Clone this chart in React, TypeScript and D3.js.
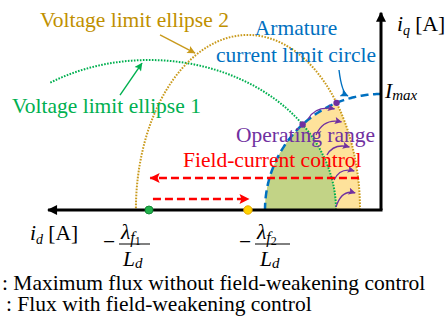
import React from "react";
import * as d3 from "d3";

const W = 445;
const H = 321;
const FONT = "'Liberation Serif','Times New Roman',serif";

// ---- data (normalised units, Imax = 1) ----
const currentLimit = 1; // Imax radius
const ellipseNames = ["Voltage limit ellipse 1", "Voltage limit ellipse 2"];
const ellipseCenters = [2.0, 1.147]; // λf/Ld
const ellipseRd = [1.612, 0.966];
const ellipseRq = [1.293, 1.509];
const ellipseStartDeg = [122, 180];
// operating-range arrows [id, iq]
const opArrowStart: [number, number][] = [
  [-0.629, 0.784],
  [-0.56, 0.647],
  [-0.466, 0.474],
  [-0.405, 0.259],
  [-0.388, 0.026],
];
const opArrowEnd: [number, number][] = [
  [-0.4, 0.871],
  [-0.34, 0.759],
  [-0.272, 0.543],
  [-0.23, 0.336],
  [-0.222, 0.147],
];
// field-current control arrows [from id, to id, iq]
const fieldArrows: [number, number, number][] = [
  [-0.19, -1.99, 0.276],
  [-1.966, -1.138, 0.095],
];
// callouts [from, to]
const goldCallout: [number, number][] = [[-1.905, 1.509], [-1.603, 1.353]];
const greenCallout: [number, number][] = [[-2.25, 0.991], [-2.06, 1.267]];
const blueCallout: [number, number][] = [[-0.362, 1.207], [-0.284, 0.983]];

const C_GOLD_T = "#bf9000";
const C_GOLD = "#c99a1c";
const C_GREEN = "#00b050";
const C_BLUE = "#0070c0";
const C_RED = "#ff0000";
const C_PURPLE = "#7030a0";

const x = d3.scaleLinear().domain([-3, 0]).range([381 - 348, 381]);
const y = d3.scaleLinear().domain([0, 1.7]).range([210, 210 - 197.2]);
const line = d3
  .line<[number, number]>()
  .x((p) => x(p[0]))
  .y((p) => y(p[1]));

function ellipsePts(i: number, a0: number, a1: number, n = 160): [number, number][] {
  return d3.range(n + 1).map((k) => {
    const t = a0 + ((a1 - a0) * k) / n;
    return [-ellipseCenters[i] + ellipseRd[i] * Math.cos(t), ellipseRq[i] * Math.sin(t)];
  });
}

function circlePts(a0: number, a1: number, n = 120): [number, number][] {
  return d3.range(n + 1).map((k) => {
    const t = a0 + ((a1 - a0) * k) / n;
    return [currentLimit * Math.cos(t), currentLimit * Math.sin(t)];
  });
}

function intersect(i: number): [number, number] {
  const f = (t: number) => {
    const d = currentLimit * Math.cos(t);
    const q = currentLimit * Math.sin(t);
    return ((d + ellipseCenters[i]) / ellipseRd[i]) ** 2 + (q / ellipseRq[i]) ** 2 - 1;
  };
  let lo = Math.PI / 2;
  let hi = Math.PI;
  for (let k = 0; k < 60; k++) {
    const m = (lo + hi) / 2;
    if (f(m) > 0) lo = m;
    else hi = m;
  }
  const t = (lo + hi) / 2;
  return [currentLimit * Math.cos(t), currentLimit * Math.sin(t)];
}

function curved(s: [number, number], e: [number, number], bend = 3) {
  const sx = x(s[0]);
  const sy = y(s[1]);
  const ex = x(e[0]);
  const ey = y(e[1]);
  const cx = sx + (ex - sx) * 0.3;
  const cy = ey - bend;
  return `M${sx},${sy} Q${cx},${cy} ${ex},${ey}`;
}

function Marker({ id, color, w, h }: { id: string; color: string; w: number; h: number }) {
  return (
    <marker
      id={id}
      viewBox="0 0 10 10"
      refX={9.5}
      refY={5}
      markerWidth={w}
      markerHeight={h}
      markerUnits="userSpaceOnUse"
      orient="auto"
    >
      <path d="M0,0 L10,5 L0,10 L2,5 z" fill={color} />
    </marker>
  );
}

export default function App() {
  const r = x(0) - x(-currentLimit);
  const halfClosed = (i: number) => line(ellipsePts(i, 0, Math.PI)) + "Z";
  const p1 = intersect(0);
  const p2 = intersect(1);
  const textBase = { fontFamily: FONT, fontSize: 21.5 } as const;

  return (
    <svg
      width={W}
      height={H}
      style={{ position: "absolute", left: 0, top: 0, background: "#fff" }}
    >
      <defs>
        <clipPath id="circ">
          <circle cx={x(0)} cy={y(0)} r={r} />
        </clipPath>
        <Marker id="m-red" color={C_RED} w={13} h={10} />
        <Marker id="m-purple" color={C_PURPLE} w={8} h={7} />
        <Marker id="m-gold" color={C_GOLD} w={10} h={8} />
        <Marker id="m-green" color={C_GREEN} w={10} h={8} />
        <Marker id="m-blue" color={C_BLUE} w={10} h={8} />
        <marker
          id="m-black"
          viewBox="0 0 10 10"
          refX={9}
          refY={5}
          markerWidth={12}
          markerHeight={10}
          markerUnits="userSpaceOnUse"
          orient="auto"
        >
          <path d="M0,0 L10,5 L0,10 z" fill="#000" />
        </marker>
      </defs>

      {/* fills */}
      <path d={halfClosed(1)} fill="#fee29b" clipPath="url(#circ)" />
      <path d={halfClosed(0)} fill="#c2d386" clipPath="url(#circ)" />

      {/* voltage limit ellipses */}
      <path
        d={line(ellipsePts(0, 0, (ellipseStartDeg[0] * Math.PI) / 180)) || ""}
        fill="none"
        stroke={C_GREEN}
        strokeWidth={2}
        strokeDasharray="1.6 1.4"
      />
      <path
        d={line(ellipsePts(1, 0, (ellipseStartDeg[1] * Math.PI) / 180)) || ""}
        fill="none"
        stroke={C_GOLD}
        strokeWidth={2}
        strokeDasharray="1.6 1.4"
      />

      {/* current limit circle */}
      <path
        d={line(circlePts(Math.PI / 2, Math.PI)) || ""}
        fill="none"
        stroke={C_BLUE}
        strokeWidth={2.5}
        strokeDasharray="8 4.5"
      />

      {/* operating range arrows */}
      {opArrowStart.map((s, i) => (
        <path
          key={i}
          d={curved(s, opArrowEnd[i], 4)}
          fill="none"
          stroke={C_PURPLE}
          strokeWidth={1.3}
          markerEnd="url(#m-purple)"
        />
      ))}

      {/* field current control arrows */}
      {fieldArrows.map((a, i) => (
        <line
          key={i}
          x1={x(a[0])}
          x2={x(a[1])}
          y1={y(a[2])}
          y2={y(a[2])}
          stroke={C_RED}
          strokeWidth={2.5}
          strokeDasharray="8 4"
          markerEnd="url(#m-red)"
        />
      ))}

      {/* callouts */}
      <path d={line(goldCallout) || ""} stroke={C_GOLD} strokeWidth={1.4} markerEnd="url(#m-gold)" />
      <path d={line(greenCallout) || ""} stroke={C_GREEN} strokeWidth={1.4} markerEnd="url(#m-green)" />
      <path
        d={curved(blueCallout[0], blueCallout[1])}
        fill="none"
        stroke={C_BLUE}
        strokeWidth={1.4}
        markerEnd="url(#m-blue)"
      />

      {/* axes */}
      <line x1={x(0)} y1={y(0)} x2={x(0)} y2={y(1.7)} stroke="#000" strokeWidth={3} markerEnd="url(#m-black)" />
      <line x1={x(0) + 1.5} y1={y(0)} x2={x(-2.87)} y2={y(0)} stroke="#000" strokeWidth={3} markerEnd="url(#m-black)" />

      {/* points */}
      <circle cx={x(p1[0])} cy={y(p1[1])} r={3.2} fill={C_PURPLE} />
      <circle cx={x(p2[0])} cy={y(p2[1])} r={3.2} fill={C_PURPLE} />
      <circle cx={x(-ellipseCenters[0])} cy={y(0)} r={4} fill="#22b14c" stroke="#128a36" strokeWidth={1} />
      <circle cx={x(-ellipseCenters[1])} cy={y(0)} r={4.2} fill="#ffd200" stroke="#e8a800" strokeWidth={1} />

      {/* texts */}
      <text x={40} y={27} fill={C_GOLD_T} {...textBase}>{ellipseNames[1]}</text>
      <text x={12} y={113} fill={C_GREEN} {...textBase}>{ellipseNames[0]}</text>
      <text x={296} y={35} fill={C_BLUE} textAnchor="middle" {...textBase}>Armature</text>
      <text x={296} y={62} fill={C_BLUE} textAnchor="middle" {...textBase}>current limit circle</text>
      <text x={236} y={142} fill={C_PURPLE} {...textBase}>Operating range</text>
      <text x={183} y={167} fill={C_RED} {...textBase}>Field-current control</text>

      <text x={397} y={31} {...textBase}>
        <tspan fontStyle="italic">i</tspan>
        <tspan fontStyle="italic" fontSize={14} dy={4}>q</tspan>
        <tspan dy={-4}> [A]</tspan>
      </text>
      <text x={385} y={98} {...textBase}>
        <tspan fontStyle="italic">I</tspan>
        <tspan fontStyle="italic" fontSize={15} dy={2}>max</tspan>
      </text>
      <text x={30} y={240} {...textBase}>
        <tspan fontStyle="italic">i</tspan>
        <tspan fontStyle="italic" fontSize={14} dy={4}>d</tspan>
        <tspan dy={-4}> [A]</tspan>
      </text>

      {/* -λf1/Ld */}
      <text x={103} y={249} {...textBase}>−</text>
      <text x={121} y={239} {...textBase}>
        <tspan fontStyle="italic">λ</tspan>
        <tspan fontStyle="italic" fontSize={16} dy={4}>f</tspan>
        <tspan fontSize={12} dy={2}>1</tspan>
      </text>
      <line x1={119} x2={150} y1={244} y2={244} stroke="#000" strokeWidth={1} />
      <text x={123} y={266} {...textBase}>
        <tspan fontStyle="italic">L</tspan>
        <tspan fontStyle="italic" fontSize={15} dy={2}>d</tspan>
      </text>

      {/* -λf2/Ld */}
      <text x={239} y={249} {...textBase}>−</text>
      <text x={257} y={239} {...textBase}>
        <tspan fontStyle="italic">λ</tspan>
        <tspan fontStyle="italic" fontSize={16} dy={4}>f</tspan>
        <tspan fontSize={12} dy={2}>2</tspan>
      </text>
      <line x1={255} x2={290} y1={244} y2={244} stroke="#000" strokeWidth={1} />
      <text x={260} y={266} {...textBase}>
        <tspan fontStyle="italic">L</tspan>
        <tspan fontStyle="italic" fontSize={15} dy={2}>d</tspan>
      </text>

      <text x={2} y={290} {...textBase}>: Maximum flux without field-weakening control</text>
      <text x={6} y={311} {...textBase}>: Flux with field-weakening control</text>
    </svg>
  );
}
